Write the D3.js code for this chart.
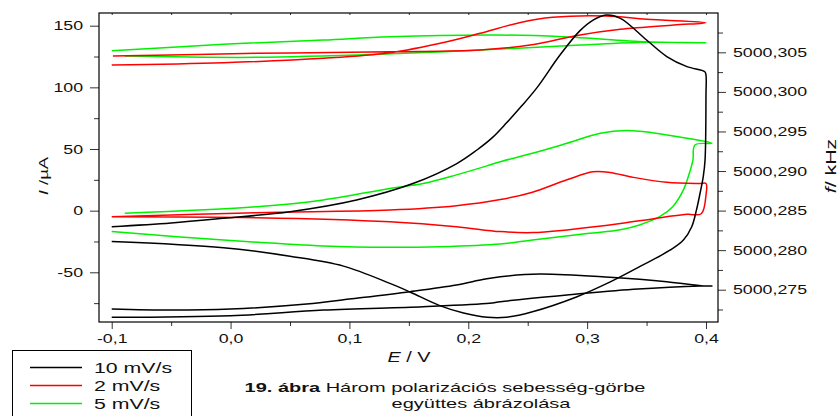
<!DOCTYPE html>
<html>
<head>
<meta charset="utf-8">
<script src="https://cdn.jsdelivr.net/npm/d3@7"></script>
<style>
  html, body { margin: 0; padding: 0; background: #fff; }
  svg text { font-family: "Liberation Sans", Arial, sans-serif; fill: #111; }
</style>
</head>
<body>
<svg id="chart" width="840" height="416"></svg>
<script>
// ---- data: potential E (V) vs current I (µA) and crystal frequency f (kHz)
const seriesNames = ["10 mV/s", "2 mV/s", "5 mV/s"];
const seriesColors = ["#000000", "#ff0000", "#00f000"];

// cyclic voltammograms [E, I]
const cv10 = [
  [-0.1, -13], [-0.05, -10], [-0.006, -6.2], [0.05, -0.8], [0.106, 8.7], [0.154, 22.2],
  [0.19, 38], [0.207, 49], [0.22, 59], [0.232, 71], [0.245, 85], [0.258, 100],
  [0.277, 126], [0.294, 146], [0.305, 154.6], [0.316, 158.7], [0.328, 156], [0.35, 138.4],
  [0.367, 125], [0.384, 116.8], [0.399, 112.7], [0.4, 110], [0.4, 95], [0.3992, 41],
  [0.3977, 27.6], [0.395, 14.1], [0.392, 0.6], [0.388, -13], [0.381, -23.8], [0.37, -31.9],
  [0.347, -44], [0.319, -58], [0.291, -70], [0.254, -82], [0.232, -86.5], [0.216, -86.5],
  [0.196, -83], [0.176, -77], [0.151, -66], [0.134, -59], [0.095, -45], [0.05, -37],
  [-0.006, -30], [-0.1, -25]
];
const cv2 = [
  [-0.1, -4.9], [0.022, -1.6], [0.134, 0.5], [0.19, 4], [0.227, 9], [0.254, 15],
  [0.283, 25], [0.305, 31.5], [0.319, 31], [0.339, 27], [0.367, 23], [0.395, 22], [0.4, 22],
  [0.4, 12.7], [0.396, -2.5], [0.384, -3], [0.356, -6.5], [0.328, -10.5], [0.283, -15.6],
  [0.254, -17.8], [0.227, -17], [0.19, -13], [0.134, -9], [0.022, -5.7], [-0.1, -4.9]
];
const cv5 = [
  [-0.089, -2.1], [0.022, 3.2], [0.078, 8.7], [0.134, 18], [0.162, 22], [0.19, 29],
  [0.218, 37], [0.227, 39.7], [0.254, 46.5], [0.283, 54.6], [0.311, 62.7], [0.333, 65],
  [0.355, 63.2], [0.384, 58.7], [0.405, 54.6], [0.3907, 53.3], [0.389, 41], [0.386, 30.3],
  [0.381, 16.8], [0.372, 3.2], [0.361, -4.9], [0.344, -11.6], [0.328, -15.5], [0.3, -18.5],
  [0.254, -23.8], [0.227, -27], [0.176, -29.2], [0.134, -29.7], [0.078, -28.6],
  [-0.006, -23.8], [-0.1, -17]
];

// frequency responses [E, f]
const freq10 = [
  [-0.1, 5000.27151], [0.0, 5000.27171], [0.078, 5000.27243], [0.162, 5000.27285],
  [0.218, 5000.27328], [0.227, 5000.27348], [0.283, 5000.27433], [0.339, 5000.27505],
  [0.395, 5000.27547], [0.405, 5000.27547], [0.398, 5000.27547], [0.367, 5000.27601],
  [0.319, 5000.27657], [0.26, 5000.27698], [0.227, 5000.27664], [0.213, 5000.27631],
  [0.19, 5000.27559], [0.151, 5000.27475], [0.1, 5000.27382], [0.064, 5000.27319],
  [0.0, 5000.27256], [-0.05, 5000.27243], [-0.1, 5000.27256]
];
const freq2 = [
  [-0.1, 5000.30340], [-0.006, 5000.30369], [0.078, 5000.30424], [0.134, 5000.30495],
  [0.182, 5000.30634], [0.21, 5000.30740], [0.243, 5000.30874], [0.271, 5000.30942],
  [0.316, 5000.30959], [0.35, 5000.30917], [0.4, 5000.30874], [0.373, 5000.30845],
  [0.328, 5000.30791], [0.294, 5000.30719], [0.252, 5000.30592], [0.21, 5000.30529],
  [0.134, 5000.30508], [0.022, 5000.30487], [-0.099, 5000.30453]
];
const freq5 = [
  [-0.1, 5000.30520], [-0.006, 5000.30601], [0.078, 5000.30655], [0.134, 5000.30697],
  [0.224, 5000.30719], [0.28, 5000.30697], [0.35, 5000.30634], [0.4, 5000.30621],
  [0.35, 5000.30626], [0.294, 5000.30592], [0.21, 5000.30529], [0.13, 5000.30479],
  [0.022, 5000.30437], [-0.089, 5000.30453]
];

// axis ticks and labels
const eTicks = [-0.1, 0.0, 0.1, 0.2, 0.3, 0.4];
const eTickLabels = ["-0,1", "0,0", "0,1", "0,2", "0,3", "0,4"];
const eMinor = [-0.05, 0.05, 0.15, 0.25, 0.35];
const iTicks = [-50, 0, 50, 100, 150];
const iTickLabels = ["-50", "0", "50", "100", "150"];
const iMinor = [-75, -25, 25, 75, 125];
const fTicks = [5000.275, 5000.280, 5000.285, 5000.290, 5000.295, 5000.300, 5000.305];
const fTickLabels = ["5000,275", "5000,280", "5000,285", "5000,290", "5000,295", "5000,300", "5000,305"];
const fMinor = [5000.2725, 5000.2775, 5000.2825, 5000.2875, 5000.2925, 5000.2975, 5000.3025, 5000.3075];

// ---- layout
const plot = { left: 99, right: 718, top: 13, bottom: 322 };
const SX = 1.42;           // horizontal stretch of the lettering
const svg = d3.select("#chart");

const x = d3.scaleLinear().domain([-0.1107, 0.4101]).range([plot.left, plot.right]);
const yI = d3.scaleLinear().domain([-90.3, 160.3]).range([plot.bottom, plot.top]);
const yF = d3.scaleLinear().domain([5000.27092, 5000.30997]).range([plot.bottom, plot.top]);

function stretchTicks(g) {
  g.selectAll("text")
    .attr("font-size", 12.5)
    .attr("font-family", "Liberation Sans, Arial, sans-serif")
    .attr("fill", "#111")
    .attr("x", function () { return (+this.getAttribute("x") || 0) / SX; })
    .attr("transform", `scale(${SX},1)`);
  g.selectAll("line").attr("stroke", "#333");
  g.select(".domain").remove();
}

// minor ticks
svg.append("g").attr("transform", `translate(0,${plot.bottom})`)
  .call(d3.axisBottom(x).tickValues(eMinor).tickSize(4).tickFormat(""))
  .call(stretchTicks);
svg.append("g").attr("transform", `translate(${plot.left},0)`)
  .call(d3.axisLeft(yI).tickValues(iMinor).tickSize(5).tickFormat(""))
  .call(stretchTicks);
svg.append("g").attr("transform", `translate(${plot.right},0)`)
  .call(d3.axisRight(yF).tickValues(fMinor).tickSize(5).tickFormat(""))
  .call(stretchTicks);
svg.append("g").attr("transform", `translate(0,${plot.top})`)
  .call(d3.axisTop(x).tickValues(eTicks.concat(eMinor)).tickSize(-2).tickFormat(""))
  .call(stretchTicks);

// major ticks with labels
svg.append("g").attr("transform", `translate(0,${plot.bottom})`)
  .call(d3.axisBottom(x).tickValues(eTicks).tickSize(7).tickPadding(5)
    .tickFormat((d, i) => eTickLabels[i]))
  .call(stretchTicks);
svg.append("g").attr("transform", `translate(${plot.left},0)`)
  .call(d3.axisLeft(yI).tickValues(iTicks).tickSize(9).tickPadding(7)
    .tickFormat((d, i) => iTickLabels[i]))
  .call(stretchTicks);
svg.append("g").attr("transform", `translate(${plot.right},0)`)
  .call(d3.axisRight(yF).tickValues(fTicks).tickSize(8).tickPadding(7)
    .tickFormat((d, i) => fTickLabels[i]))
  .call(stretchTicks);

// frame
svg.append("rect")
  .attr("x", plot.left).attr("y", plot.top)
  .attr("width", plot.right - plot.left).attr("height", plot.bottom - plot.top)
  .attr("fill", "none").attr("stroke", "#000").attr("stroke-width", 1.2);

// curves
const curve = d3.curveCatmullRom.alpha(0.5);
const lineI = d3.line().x(d => x(d[0])).y(d => yI(d[1])).curve(curve);
const lineF = d3.line().x(d => x(d[0])).y(d => yF(d[1])).curve(curve);

const layers = [
  { cv: cv5, freq: freq5, color: seriesColors[2] },
  { cv: cv2, freq: freq2, color: seriesColors[1] },
  { cv: cv10, freq: freq10, color: seriesColors[0] }
];
const curves = svg.append("g").attr("fill", "none").attr("stroke-width", 1.5)
  .attr("stroke-linejoin", "round");
layers.forEach(l => {
  curves.append("path").attr("d", lineF(l.freq)).attr("stroke", l.color);
  curves.append("path").attr("d", lineI(l.cv)).attr("stroke", l.color);
});

// text helper: lettering stretched along its baseline
function label(px, py, anchor, size, parts, rotate, sx = SX) {
  const g = svg.append("g")
    .attr("transform", `translate(${px},${py})` + (rotate ? ` rotate(${rotate})` : "") + ` scale(${sx},1)`);
  const t = g.append("text").attr("text-anchor", anchor).attr("font-size", size);
  parts.forEach(p => {
    t.append("tspan").text(p.text)
      .attr("font-style", p.italic ? "italic" : null)
      .attr("font-weight", p.bold ? "bold" : null);
  });
  return t;
}

// axis titles
label(48, 176, "middle", 13, [{ text: "I", italic: true }, { text: " /µA" }], -90);
label(836, 166, "middle", 15, [{ text: "f", italic: true }, { text: "/ kHz" }], -90);
label(409, 362, "middle", 14, [{ text: "E", italic: true }, { text: " / V" }]);

// caption
label(445, 392, "middle", 13.5, [{ text: "19. ábra", bold: true }, { text: " Három polarizációs sebesség-görbe" }], 0, 1.48);
label(481, 408, "middle", 13.5, [{ text: "együttes ábrázolása" }], 0, 1.48);

// legend
const legend = svg.append("g");
legend.append("rect").attr("x", 12.5).attr("y", 350.5).attr("width", 179).attr("height", 80)
  .attr("fill", "#fff").attr("stroke", "#000").attr("stroke-width", 1);
const legendY = [367.5, 385.5, 403.5];
seriesNames.forEach((name, i) => {
  legend.append("line").attr("x1", 30).attr("x2", 82).attr("y1", legendY[i]).attr("y2", legendY[i])
    .attr("stroke", seriesColors[i]).attr("stroke-width", 1.5);
  label(94, legendY[i] + 5, "start", 15, [{ text: name }]);
});
</script>
</body>
</html>
